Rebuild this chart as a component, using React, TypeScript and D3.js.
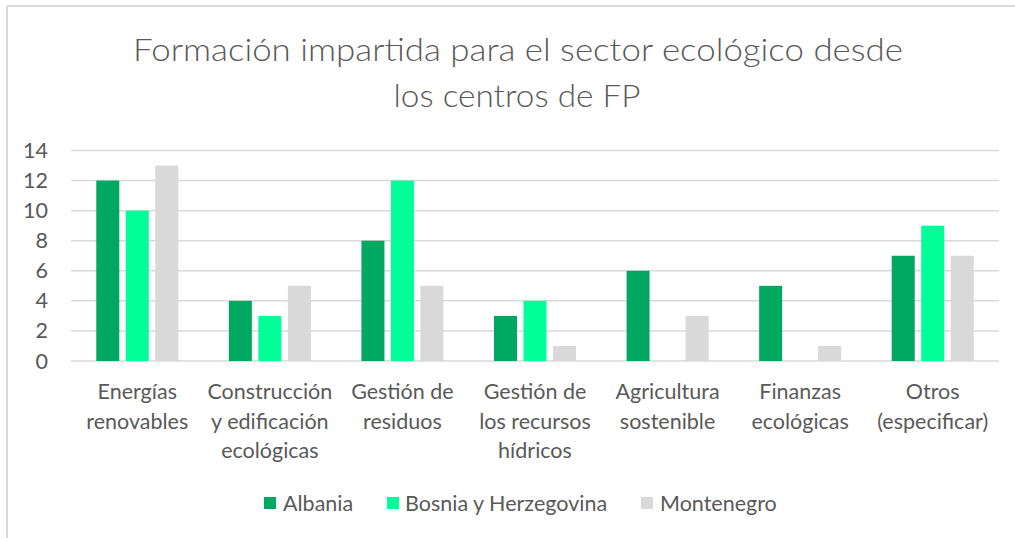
import React from "react";
import * as d3 from "d3";

const categories: string[][] = [
  ["Energías", "renovables"],
  ["Construcción", "y edificación", "ecológicas"],
  ["Gestión de", "residuos"],
  ["Gestión de", "los recursos", "hídricos"],
  ["Agricultura", "sostenible"],
  ["Finanzas", "ecológicas"],
  ["Otros", "(especificar)"],
];
const seriesNames = ["Albania", "Bosnia y Herzegovina", "Montenegro"];
const albania = [12, 4, 8, 3, 6, 5, 7];
const bosnia = [10, 3, 12, 4, 0, 0, 9];
const montenegro = [13, 5, 5, 1, 3, 1, 7];
const yTicks = [0, 2, 4, 6, 8, 10, 12, 14];
const titleLines = ["Formación impartida para el sector ecológico desde", "los centros de FP"];

const colors = ["#00A862", "#00FF99", "#D9D9D9"];
const textColor = "#595959";
const font = "Lato, 'Open Sans', 'Liberation Sans', sans-serif";

export default function App() {
  const W = 1015;
  const H = 538;
  const values = [albania, bosnia, montenegro];
  const keys = categories.map((c) => c.join(" "));
  const x = d3.scaleBand<string>().domain(keys).range([71, 999]).paddingInner(0).paddingOuter(0);
  const groupW = 82;
  const inner = d3.scaleBand<string>().domain(seriesNames).range([0, groupW]).paddingInner(0.22).paddingOuter(0);
  const y = d3.scaleLinear().domain([0, 14]).range([361, 150.5]);

  const legendItems = [
    { name: seriesNames[0], sx: 264, tx: 283 },
    { name: seriesNames[1], sx: 387, tx: 405 },
    { name: seriesNames[2], sx: 641, tx: 660 },
  ];
  const fs = 21.5;

  return (
    <svg width={W} height={H} style={{ position: "absolute", left: 0, top: 0, background: "#fff" }} fontFamily={font}>
      <rect x={0} y={0} width={W} height={H} fill="#fff" />
      <line x1={7} y1={6} x2={W} y2={6} stroke="#D9D9D9" strokeWidth={2} />
      <line x1={7} y1={6} x2={7} y2={H} stroke="#D9D9D9" strokeWidth={2} />

      <text x={518} y={61} textAnchor="middle" fontSize={32} fontWeight={300} fill={textColor} textLength={770} lengthAdjust="spacingAndGlyphs">
        {titleLines[0]}
      </text>
      <text x={517} y={107} textAnchor="middle" fontSize={32} fontWeight={300} fill={textColor} textLength={247} lengthAdjust="spacingAndGlyphs">
        {titleLines[1]}
      </text>

      {yTicks.map((t) => (
        <g key={t}>
          <line x1={71} x2={999} y1={y(t)} y2={y(t)} stroke="#D9D9D9" strokeWidth={1.5} />
          <text x={48} y={y(t)} dy="0.35em" textAnchor="end" fontSize={fs} fill={textColor}>
            {t}
          </text>
        </g>
      ))}

      {keys.map((k, ci) => {
        const gx = (x(k) as number) + x.bandwidth() / 2 - groupW / 2;
        return (
          <g key={k}>
            {values.map((vals, si) =>
              vals[ci] > 0 ? (
                <rect
                  key={si}
                  x={gx + (inner(seriesNames[si]) as number)}
                  y={y(vals[ci])}
                  width={inner.bandwidth()}
                  height={y(0) - y(vals[ci])}
                  fill={colors[si]}
                />
              ) : null
            )}
            {categories[ci].map((line, li) => (
              <text
                key={li}
                x={(x(k) as number) + x.bandwidth() / 2}
                y={399 + li * 29.5}
                textAnchor="middle"
                fontSize={fs}
                fill={textColor}
              >
                {line}
              </text>
            ))}
          </g>
        );
      })}

      {legendItems.map((it, i) => (
        <g key={it.name}>
          <rect x={it.sx} y={497} width={12} height={12} fill={colors[i]} />
          <text x={it.tx} y={503} dy="0.35em" fontSize={fs} fill={textColor}>
            {it.name}
          </text>
        </g>
      ))}
    </svg>
  );
}
